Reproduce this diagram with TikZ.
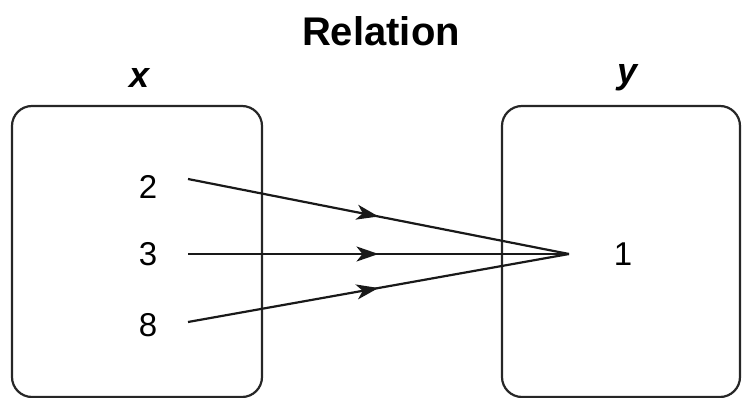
\documentclass[tikz,border=0pt]{standalone}
\usepackage{fontspec}
\setmainfont{Liberation Sans}
\usetikzlibrary{arrows.meta,decorations.markings}
\begin{document}
\begin{tikzpicture}[x=1pt,y=-1pt,
  setbox/.style={draw=black!85,line width=2.2pt,rounded corners=20pt},
  num/.style={font=\fontsize{33}{36}\selectfont,inner sep=0pt},
  lbl/.style={font=\fontsize{36}{40}\selectfont\bfseries\itshape,inner sep=0pt},
  maparrow/.style={line width=2.2pt,draw=black!90,
    decoration={markings,mark=at position #1 with {\arrow{Stealth[length=22pt,width=15pt,inset=6pt]}}},
    postaction={decorate}}
]
\useasboundingbox (0,0) rectangle (745,398);
\node[font=\fontsize{40}{44}\selectfont\bfseries,inner sep=0pt] (title) at (381,31) {Relation};
\node[lbl] (xl) at (140,78) {x};
\node[lbl] (yl) at (628,78) {y};
\draw[setbox] (12,106) rectangle (262,397);
\draw[setbox] (502,106) rectangle (740,397);
\node[num] (n2) at (148,187) {2};
\node[num] (n3) at (148,254) {3};
\node[num] (n8) at (148,325) {8};
\node[num] (n1) at (623,254) {1};
\coordinate (s2) at (188,179);
\coordinate (s3) at (188,254);
\coordinate (s8) at (188,322);
\coordinate (t) at (569,254);
\draw[maparrow=0.5] (s2) -- (t);
\draw[maparrow=0.5] (s3) -- (t);
\draw[maparrow=0.5] (s8) -- (t);
\end{tikzpicture}
\end{document}
